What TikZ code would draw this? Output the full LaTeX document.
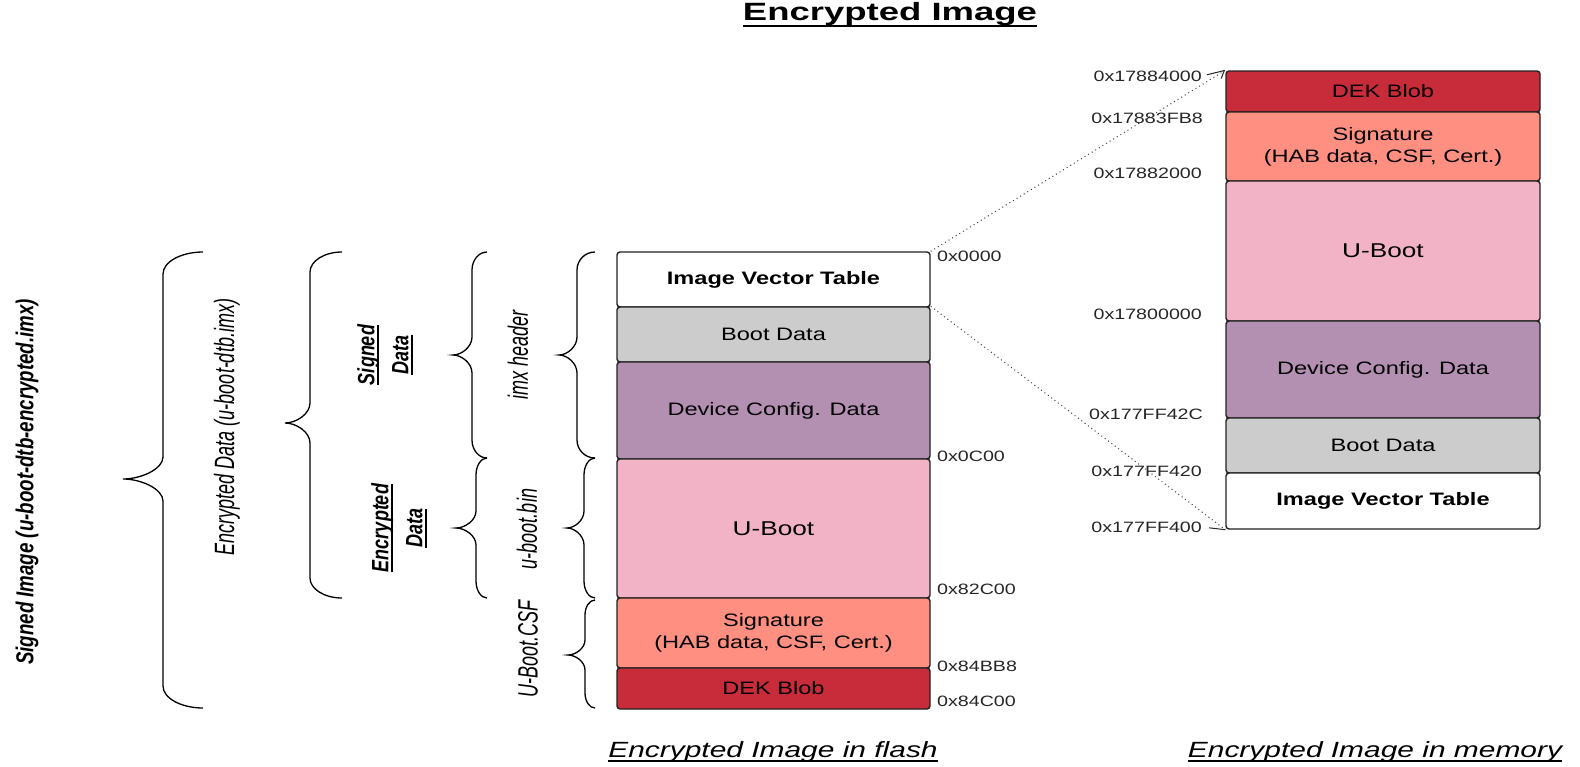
\documentclass[tikz,border=0pt]{standalone}
\usepackage{fontspec}
\setmainfont{Liberation Sans}
\usepackage{graphicx}
\usetikzlibrary{arrows.meta}

\definecolor{dcdpurple}{HTML}{B38FB2}
\definecolor{ubootpink}{HTML}{F2B3C6}
\definecolor{sigsalmon}{HTML}{FF8F80}
\definecolor{dekred}{HTML}{C82C3A}
\definecolor{bootgray}{HTML}{CCCCCC}
\definecolor{edgegray}{HTML}{222222}

% wide horizontal text / thick rotated text
\newcommand{\hs}[1]{\scalebox{1.31}[1]{#1}}
\newcommand{\vs}[1]{\scalebox{1}[1.31]{#1}}
\newcommand{\vsl}[1]{\scalebox{1}[1.55]{#1}}
% underline: #1 drop below baseline, #2 rule thickness, #3 text
\newcommand{\undl}[3]{\setbox0=\hbox{#3}\leavevmode\rlap{\copy0}\rlap{\rule[-#1]{\wd0}{#2}}\hspace{\wd0}}
% curly brace opening to the right: x-end, x-stem, x-tip, y-top, y-tip, y-bottom, bend
\newcommand{\curlyb}[7]{%
  \draw[bracepen] (#1,#4)
    .. controls ({#1-0.55*(#1-#2)},#4) and (#2,{#4+0.45*#7}) .. (#2,{#4+#7})
    -- (#2,{#5-#7})
    .. controls (#2,{#5-0.45*#7}) and ({#3+0.45*(#2-#3)},#5) .. (#3,#5)
    .. controls ({#3+0.45*(#2-#3)},#5) and (#2,{#5+0.45*#7}) .. (#2,{#5+#7})
    -- (#2,{#6-#7})
    .. controls (#2,{#6-0.45*#7}) and ({#1-0.55*(#1-#2)},#6) .. (#1,#6);}

\begin{document}
\begin{tikzpicture}[x=1pt,y=-1pt,
  blk/.style={draw=edgegray, line width=1.4pt, rounded corners=3pt,
    inner sep=0pt, align=center, text=black,
    font=\fontsize{18}{21.7}\selectfont},
  flashblk/.style={blk, minimum width=313pt},
  memblk/.style={blk, minimum width=314pt},
  addr/.style={inner sep=0pt, text=black!85, font=\fontsize{15}{17}\selectfont},
  sidelbl/.style={inner sep=0pt, rotate=90, align=center, text=black,
    font=\fontsize{18}{34}\selectfont\itshape},
  bracepen/.style={line width=1.3pt, black},
  mapline/.style={draw=black!75, line width=1pt, dash pattern=on 1pt off 3.2pt},
  tick/.style={draw=black!85, line width=1pt}]

\fill[white] (0,0) rectangle (1580,766);
\useasboundingbox (0,0) rectangle (1580,766);

% title
\node[anchor=base, inner sep=0pt] (title) at (890,20)
  {\fontsize{25}{28}\selectfont\bfseries\scalebox{1.46}[1]{\undl{7pt}{1.9pt}{Encrypted Image}}};

% image in flash
\node[flashblk, fill=white, minimum height=55pt] (ivtF) at (773.5,279.5) {\bfseries\hs{Image Vector Table}};
\node[flashblk, fill=bootgray, minimum height=55pt] (bootF) at (773.5,334.5) {\hs{Boot Data}};
\node[flashblk, fill=dcdpurple, minimum height=97pt] (dcdF) at (773.5,410.5) {\hs{Device Config. Data}};
\node[flashblk, fill=ubootpink, minimum height=139pt] (ubootF) at (773.5,528.5) {\fontsize{20}{24}\selectfont\hs{U-Boot}};
\node[flashblk, fill=sigsalmon, minimum height=70pt] (sigF) at (773.5,633) {\hs{Signature}\\\hs{(HAB data, CSF, Cert.)}};
\node[flashblk, fill=dekred, minimum height=41pt] (dekF) at (773.5,688.5) {\hs{DEK Blob}};

\node[addr, anchor=west] (aF0) at (937,256) {\hs{0x0000}};
\node[addr, anchor=west] (aF1) at (937,456) {\hs{0x0C00}};
\node[addr, anchor=west] (aF2) at (937,589) {\hs{0x82C00}};
\node[addr, anchor=west] (aF3) at (937,666) {\hs{0x84BB8}};
\node[addr, anchor=west] (aF4) at (937,701) {\hs{0x84C00}};

% image in memory
\node[memblk, fill=dekred, minimum height=41pt] (dekM) at (1383,91.5) {\hs{DEK Blob}};
\node[memblk, fill=sigsalmon, minimum height=69pt] (sigM) at (1383,146.5) {\hs{Signature}\\\hs{(HAB data, CSF, Cert.)}};
\node[memblk, fill=ubootpink, minimum height=140pt] (ubootM) at (1383,251) {\fontsize{20}{24}\selectfont\hs{U-Boot}};
\node[memblk, fill=dcdpurple, minimum height=97pt] (dcdM) at (1383,369.5) {\hs{Device Config. Data}};
\node[memblk, fill=bootgray, minimum height=55pt] (bootM) at (1383,445.5) {\hs{Boot Data}};
\node[memblk, fill=white, minimum height=56pt] (ivtM) at (1383,501) {\bfseries\hs{Image Vector Table}};

\node[addr, anchor=east] (aM0) at (1202,76) {\hs{0x17884000}};
\node[addr, anchor=east] (aM1) at (1203,118) {\hs{0x17883FB8}};
\node[addr, anchor=east] (aM2) at (1202,173) {\hs{0x17882000}};
\node[addr, anchor=east] (aM3) at (1202,314) {\hs{0x17800000}};
\node[addr, anchor=east] (aM4) at (1203,414) {\hs{0x177FF42C}};
\node[addr, anchor=east] (aM5) at (1202,471) {\hs{0x177FF420}};
\node[addr, anchor=east] (aM6) at (1202,527) {\hs{0x177FF400}};

\draw[tick, shorten <=5pt, -{Straight Barb[right, length=5pt, width=14pt]}] (aM0.east) -- (dekM.north west);
\draw[tick, shorten <=7pt] (aM6.east) -- (ivtM.south west);

% flash to memory mapping
\draw[mapline] (ivtF.north east) -- (dekM.north west);
\draw[mapline] (bootF.north east) -- (ivtM.south west);

% braces
\curlyb{203}{163}{123}{252}{479}{708}{22}
\curlyb{342}{310}{285}{252}{423}{598}{20}
\curlyb{487}{472}{453}{252}{355}{458}{18}
\curlyb{487}{476}{456}{458}{528}{598}{17}
\curlyb{595}{577}{559}{252}{355}{458}{18}
\curlyb{595}{584}{567}{458}{528}{598}{17}
\curlyb{595}{585}{568}{600}{655}{708}{15}

% brace labels
\node[sidelbl, font=\fontsize{18.7}{22}\selectfont\bfseries\itshape] (sImg) at (27,482)
  {\vs{Signed Image (u-boot-dtb-encrypted.imx)}};
\node[sidelbl] (eDat) at (227,427) {\vsl{Encrypted Data (u-boot-dtb.imx)}};
\node[sidelbl, font=\fontsize{18}{34}\selectfont\bfseries\itshape] (sDat) at (385,355)
  {\vs{\undl{3.5pt}{1.2pt}{Signed}}\\\vs{\undl{3.5pt}{1.2pt}{Data}}};
\node[sidelbl, font=\fontsize{18}{34}\selectfont\bfseries\itshape] (eBlk) at (399,528)
  {\vs{\undl{3.5pt}{1.2pt}{Encrypted}}\\\vs{\undl{3.5pt}{1.2pt}{Data}}};
\node[sidelbl] (imxH) at (518,355) {\vsl{imx header}};
\node[sidelbl] (ubBin) at (527,529) {\vsl{u-boot.bin}};
\node[sidelbl] (ubCsf) at (528,649) {\vsl{U-Boot.CSF}};

% captions
\node[anchor=base, inner sep=0pt] (capF) at (773,757)
  {\fontsize{22}{26}\selectfont\itshape\scalebox{1.36}[1]{\undl{4.5pt}{1.3pt}{Encrypted Image in flash}}};
\node[anchor=base, inner sep=0pt] (capM) at (1375,757)
  {\fontsize{22}{26}\selectfont\itshape\scalebox{1.36}[1]{\undl{4.5pt}{1.3pt}{Encrypted Image in memory}}};
\end{tikzpicture}
\end{document}
